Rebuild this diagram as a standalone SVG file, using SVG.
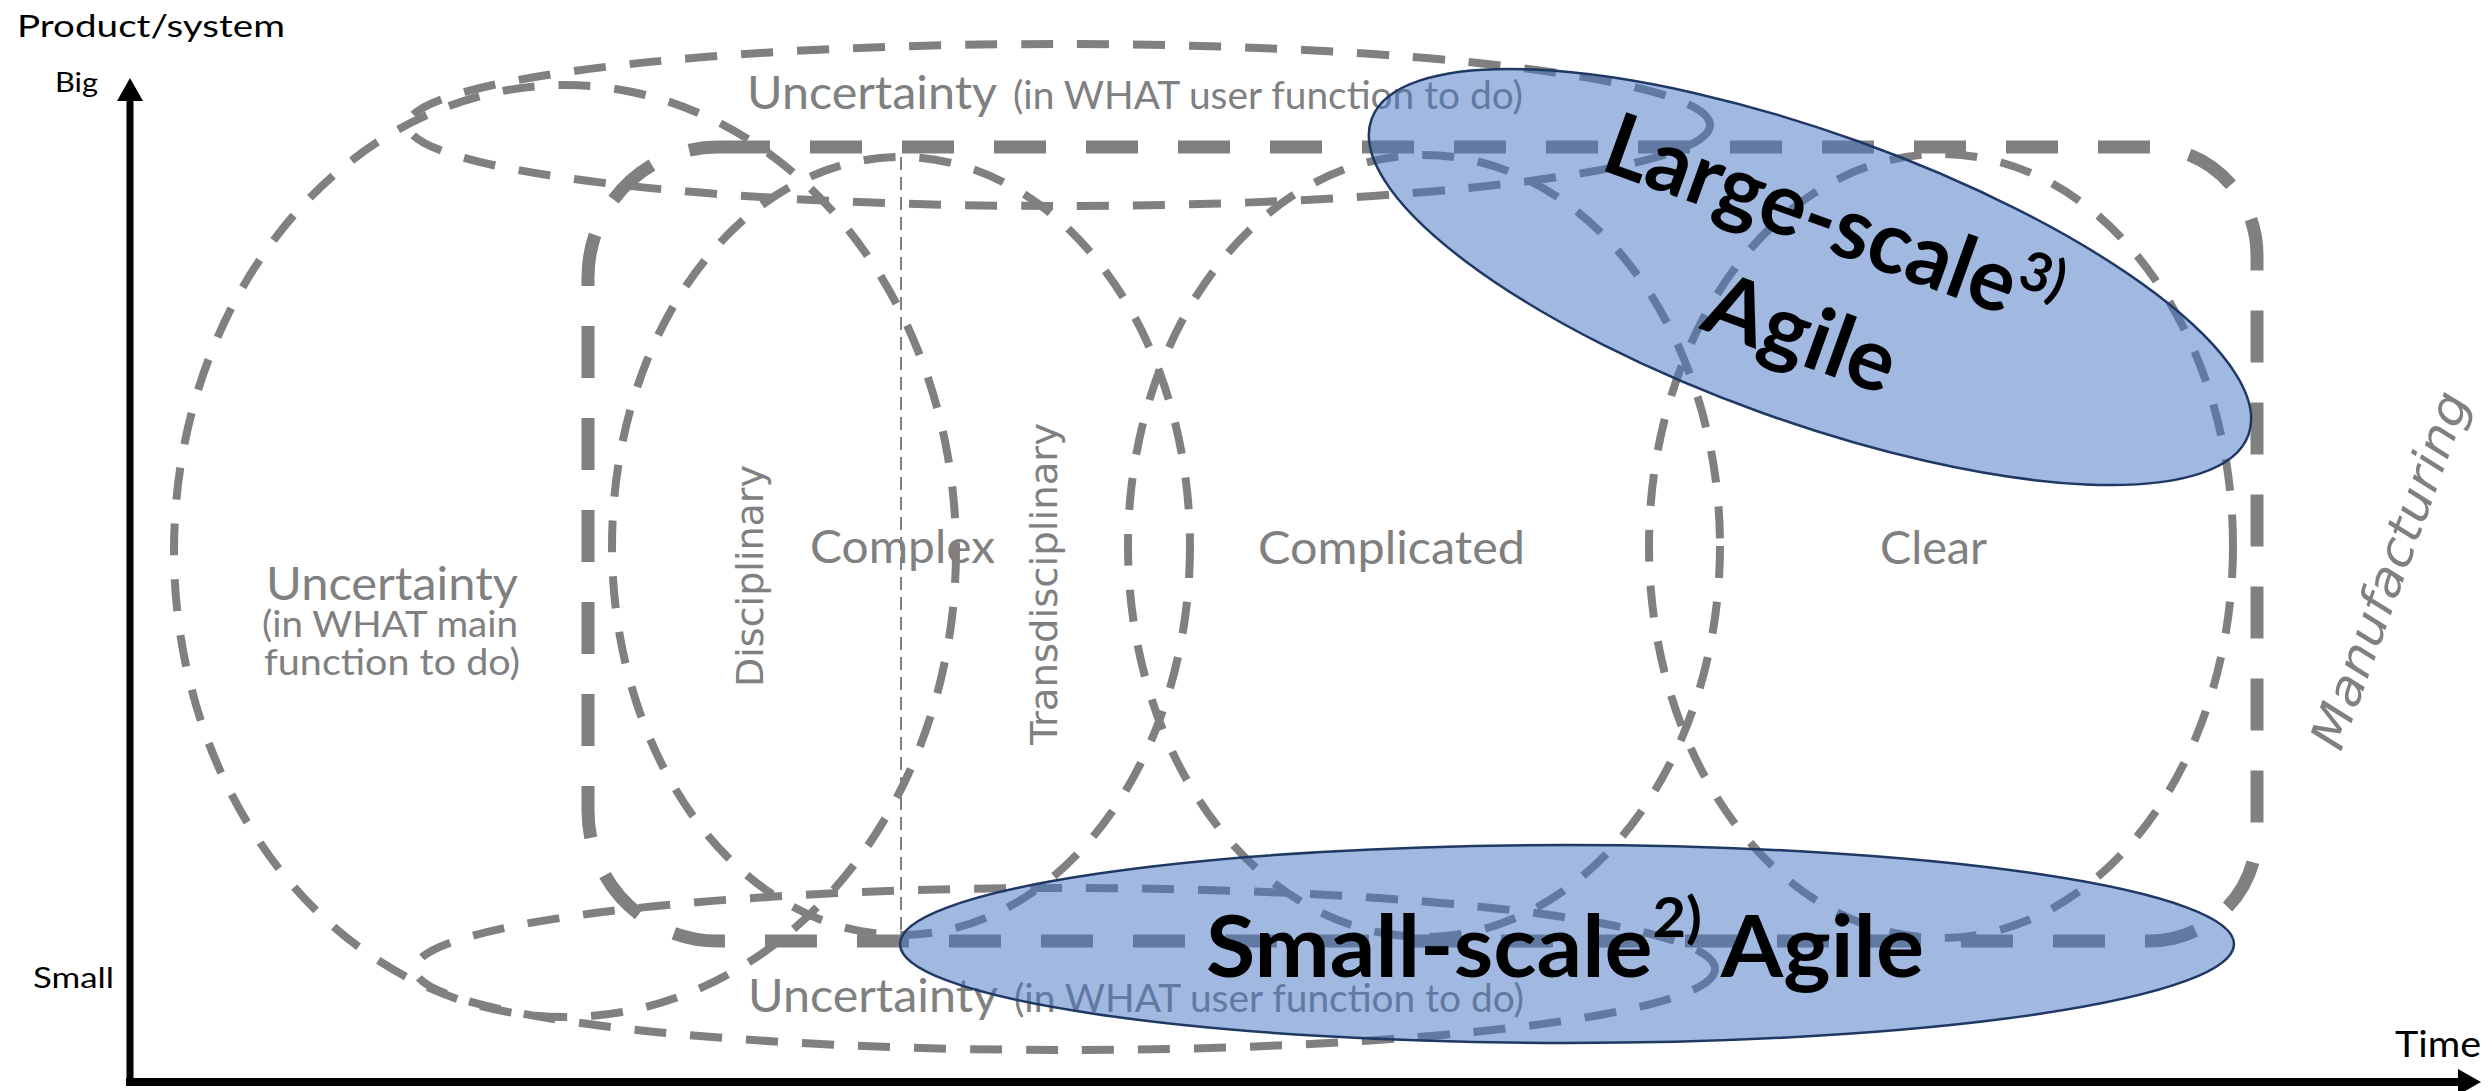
<svg xmlns="http://www.w3.org/2000/svg" width="2492" height="1091" viewBox="0 0 2492 1091">
<defs>
<style>
.dash{fill:none;stroke:#808080;stroke-width:8;stroke-dasharray:32 24}
.thick{fill:none;stroke:#808080;stroke-width:13;stroke-dasharray:52 40}
.thin{fill:none;stroke:#808080;stroke-width:2;stroke-dasharray:13 7}
.blue{fill:#4472C4;fill-opacity:0.5;stroke:#1F3864;stroke-width:2.5}
.lbl{font-family:Lato,"Open Sans",sans-serif;fill:#808080}
.dv{font-family:"DejaVu Sans",sans-serif;fill:#808080}
.ax{font-family:Lato,"Open Sans",sans-serif;fill:#000}
.big{font-family:Lato,"Open Sans",sans-serif;font-weight:700;fill:#000}
.axis{stroke:#000;fill:none}
</style>
<marker id="arrow" viewBox="0 -13 23 26" refX="1" refY="0" markerWidth="23" markerHeight="26" markerUnits="userSpaceOnUse" orient="auto">
<path d="M0,-13 L23,0 L0,13 Z" fill="#000"/>
</marker>
</defs>
<rect width="2492" height="1091" fill="#fff"/>

<g id="uncertainty-main">
<ellipse class="dash" cx="565" cy="551" rx="391" ry="466"/>
<text class="lbl" text-anchor="middle">
<tspan x="394" y="600" font-size="47" textLength="252" lengthAdjust="spacingAndGlyphs">Uncertainty</tspan>
<tspan x="392" y="637" font-size="37" textLength="256" lengthAdjust="spacingAndGlyphs">(in WHAT main</tspan>
<tspan x="392" y="675" font-size="37" textLength="256" lengthAdjust="spacingAndGlyphs">function to do)</tspan>
</text>
</g>

<g id="uncertainty-user-top">
<ellipse class="dash" cx="1059" cy="125" rx="651" ry="81"/>
<text class="lbl"><tspan x="747" y="109" font-size="47" textLength="250" lengthAdjust="spacingAndGlyphs">Uncertainty</tspan><tspan x="1013" y="109" font-size="38" textLength="510" lengthAdjust="spacingAndGlyphs">(in WHAT user function to do)</tspan></text>
</g>

<g id="uncertainty-user-bottom">
<ellipse class="dash" cx="1065" cy="969" rx="650" ry="81"/>
<text class="lbl"><tspan x="748" y="1012" font-size="47" textLength="250" lengthAdjust="spacingAndGlyphs">Uncertainty</tspan><tspan x="1014" y="1012" font-size="38" textLength="510" lengthAdjust="spacingAndGlyphs">(in WHAT user function to do)</tspan></text>
</g>

<g id="complex">
<ellipse class="dash" cx="901" cy="546" rx="289" ry="389"/>
<line class="thin" x1="901" y1="157" x2="901" y2="935"/>
<text class="dv" font-size="38" text-anchor="middle" transform="translate(763,576) rotate(-90)" x="0" y="0" textLength="222" lengthAdjust="spacingAndGlyphs">Disciplinary</text>
<text class="lbl" x="810" y="563" font-size="47" textLength="185" lengthAdjust="spacingAndGlyphs">Complex</text>
<text class="dv" font-size="38" text-anchor="middle" transform="translate(1057,584) rotate(-90)" x="0" y="0" textLength="322" lengthAdjust="spacingAndGlyphs">Transdisciplinary</text>
</g>

<g id="complicated">
<ellipse class="dash" cx="1424" cy="546" rx="296" ry="391"/>
<text class="lbl" x="1258" y="564" font-size="47" textLength="267" lengthAdjust="spacingAndGlyphs">Complicated</text>
</g>

<g id="clear">
<ellipse class="dash" cx="1941" cy="546" rx="292" ry="392"/>
<text class="lbl" x="1880" y="564" font-size="47" textLength="107" lengthAdjust="spacingAndGlyphs">Clear</text>
</g>

<g id="manufacturing">
<path class="thick" d="M718,147 H2149 A108,108 0 0 1 2257,255 V833 A108,108 0 0 1 2149,941 H718 A130,130 0 0 1 588,811 V277 A130,130 0 0 1 718,147 Z"/>
<text class="dv" font-size="48" font-style="italic" text-anchor="middle" transform="translate(2392,571) rotate(-70)" x="0" y="14" textLength="376" lengthAdjust="spacingAndGlyphs">Manufacturing</text>
</g>

<g id="large-scale-agile">
<ellipse class="blue" cx="1810" cy="277" rx="466" ry="144" transform="rotate(19.8 1810 277)"/>
<g transform="translate(1810,277) rotate(19.8)">
<text class="big" font-size="87" text-anchor="middle" x="3" y="-30" textLength="477" lengthAdjust="spacingAndGlyphs">Large-scale<tspan dy="-32" font-size="54">3)</tspan></text>
<text class="big" font-size="87" text-anchor="middle" x="11" y="86" textLength="197" lengthAdjust="spacingAndGlyphs">Agile</text>
</g>
</g>

<g id="small-scale-agile">
<ellipse class="blue" cx="1567" cy="944" rx="667" ry="99"/>
<text class="big" font-size="87" x="1206" y="977" textLength="718" lengthAdjust="spacingAndGlyphs">Small-scale<tspan dy="-40" font-size="56">2)</tspan><tspan dy="40"> Agile</tspan></text>
</g>

<g id="axes">
<line class="axis" stroke-width="7" x1="130" y1="1086" x2="130" y2="100" marker-end="url(#arrow)"/>
<line class="axis" stroke-width="8" x1="126" y1="1082" x2="2459" y2="1082" marker-end="url(#arrow)"/>
</g>

<g id="axis-labels">
<text class="ax" x="17" y="37" font-size="31" textLength="268" lengthAdjust="spacingAndGlyphs">Product/system</text>
<text class="ax" x="55" y="92" font-size="26" textLength="43" lengthAdjust="spacingAndGlyphs">Big</text>
<text class="ax" x="33" y="988" font-size="29" textLength="81" lengthAdjust="spacingAndGlyphs">Small</text>
<text class="ax" x="2395" y="1057" font-size="37" textLength="86" lengthAdjust="spacingAndGlyphs">Time</text>
</g>
</svg>
